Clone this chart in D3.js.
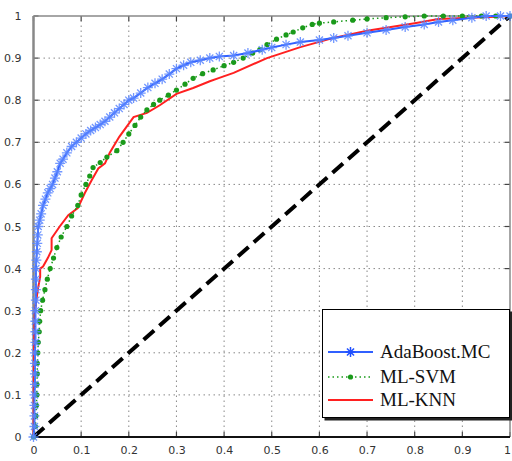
<!DOCTYPE html>
<html lang="en">
<head>
<meta charset="utf-8">
<title>ROC curves</title>
<script src="https://cdn.jsdelivr.net/npm/d3@7"></script>
<style>
  body { margin: 0; background: #fff; }
  svg { display: block; }
</style>
</head>
<body>
<script>
// ROC points: [false positive rate, true positive rate]
var adaboost = [
  [0,0],[0.002,0.025],[0.002,0.05],[0.002,0.075],[0.002,0.1],[0.003,0.125],[0.003,0.15],
  [0.003,0.175],[0.003,0.2],[0.004,0.225],[0.004,0.25],[0.004,0.275],[0.004,0.3],
  [0.005,0.325],[0.005,0.35],[0.005,0.375],[0.005,0.4],[0.006,0.42],[0.007,0.44],
  [0.008,0.46],[0.009,0.48],[0.01,0.5],[0.013,0.515],[0.016,0.53],[0.02,0.55],[0.025,0.565],
  [0.03,0.58],[0.035,0.59],[0.04,0.6],[0.045,0.615],[0.05,0.63],[0.056,0.65],[0.062,0.66],
  [0.07,0.675],[0.08,0.69],[0.09,0.70],[0.1,0.71],[0.11,0.72],[0.12,0.728],[0.13,0.735],
  [0.14,0.742],[0.15,0.75],[0.16,0.76],[0.17,0.77],[0.18,0.78],[0.19,0.79],[0.2,0.8],
  [0.21,0.805],[0.225,0.817],[0.24,0.83],[0.255,0.84],[0.27,0.85],[0.285,0.862],[0.3,0.875],
  [0.315,0.883],[0.33,0.89],[0.35,0.895],[0.37,0.9],[0.39,0.904],[0.42,0.906],[0.45,0.912],
  [0.48,0.92],[0.5,0.925],[0.53,0.932],[0.56,0.938],[0.6,0.943],[0.63,0.948],[0.66,0.953],
  [0.7,0.96],[0.74,0.967],[0.78,0.974],[0.82,0.98],[0.85,0.986],[0.88,0.99],[0.92,0.996],
  [0.95,1.0],[0.98,1],[1,1]
];
var mlsvm = [
  [0,0],[0.004,0.025],[0.005,0.05],[0.006,0.075],[0.007,0.1],[0.007,0.125],[0.008,0.15],
  [0.008,0.175],[0.009,0.2],[0.01,0.225],[0.012,0.25],[0.013,0.275],[0.015,0.3],
  [0.019,0.325],[0.024,0.35],[0.029,0.375],[0.035,0.4],[0.042,0.425],[0.049,0.45],
  [0.058,0.475],[0.07,0.5],[0.08,0.525],[0.093,0.55],[0.1,0.575],[0.11,0.6],[0.118,0.62],
  [0.125,0.64],[0.14,0.652],[0.154,0.665],[0.175,0.68],[0.188,0.7],[0.2,0.72],[0.213,0.74],
  [0.225,0.76],[0.238,0.777],[0.252,0.79],[0.265,0.8],[0.283,0.812],[0.3,0.824],
  [0.318,0.838],[0.335,0.852],[0.355,0.863],[0.377,0.872],[0.4,0.882],[0.42,0.89],
  [0.44,0.9],[0.46,0.912],[0.475,0.92],[0.49,0.932],[0.51,0.945],[0.53,0.955],[0.545,0.962],
  [0.565,0.972],[0.585,0.98],[0.6,0.983],[0.63,0.986],[0.67,0.99],[0.7,0.993],[0.74,0.996],
  [0.78,0.998],[0.82,1],[0.86,1],[0.9,1],[0.94,1],[0.97,1],[1,1]
];
var mlknn = [
  [0,0],[0.001,0.2],[0.002,0.27],[0.003,0.3],[0.009,0.35],[0.014,0.38],[0.014,0.4],
  [0.02,0.405],[0.03,0.425],[0.038,0.444],[0.038,0.472],[0.055,0.5],[0.073,0.527],
  [0.093,0.544],[0.108,0.58],[0.122,0.61],[0.136,0.638],[0.15,0.65],[0.16,0.675],
  [0.18,0.713],[0.21,0.76],[0.238,0.77],[0.265,0.788],[0.3,0.815],[0.335,0.829],
  [0.37,0.845],[0.39,0.853],[0.42,0.865],[0.49,0.9],[0.56,0.926],[0.63,0.948],
  [0.7,0.965],[0.8,0.983],[0.85,0.993],[0.97,0.998],[1,1]
];
var chance = [[0,0],[1,1]];
var ticks = [0,0.1,0.2,0.3,0.4,0.5,0.6,0.7,0.8,0.9,1];
var names = ["AdaBoost.MC","ML-SVM","ML-KNN"];

var w = 512, h = 461;
var margin = {top: 16, right: 2, bottom: 24, left: 33.5};

var svg = d3.select("body").append("svg")
  .attr("width", w)
  .attr("height", h);

var x = d3.scaleLinear().domain([0,1]).range([margin.left, w - margin.right]);
var y = d3.scaleLinear().domain([0,1]).range([h - margin.bottom, margin.top]);

// dotted grid
var grid = svg.append("g").attr("stroke", "#888").attr("stroke-width", 1)
  .attr("stroke-dasharray", "1.5,3.5");
grid.selectAll("line.v").data(ticks.slice(1, -1)).enter().append("line")
  .attr("x1", d => x(d)).attr("x2", d => x(d))
  .attr("y1", y(0)).attr("y2", y(1));
grid.selectAll("line.h").data(ticks.slice(1, -1)).enter().append("line")
  .attr("y1", d => y(d)).attr("y2", d => y(d))
  .attr("x1", x(0)).attr("x2", x(1));

// axes with tick labels
var xAxis = d3.axisBottom(x).tickValues(ticks).tickSize(0).tickPadding(9)
  .tickFormat(d3.format("~g"));
var yAxis = d3.axisLeft(y).tickValues(ticks).tickSize(0).tickPadding(12)
  .tickFormat(d3.format("~g"));

svg.append("g").attr("transform", `translate(0,${y(0)})`).call(xAxis)
  .call(g => g.select(".domain").remove())
  .selectAll("text").attr("font-family", "DejaVu Sans").attr("font-size", 11).attr("fill", "#333")
  .attr("dx", d => d === 1 ? -3 : 0);
svg.append("g").attr("transform", `translate(${x(0)},0)`).call(yAxis)
  .call(g => g.select(".domain").remove())
  .selectAll("text").attr("font-family", "DejaVu Sans").attr("font-size", 11).attr("fill", "#333");

// inner tick marks on all four sides
var tk = svg.append("g").attr("stroke", "#444").attr("stroke-width", 1.2);
ticks.forEach(function(t) {
  tk.append("line").attr("x1", x(t)).attr("x2", x(t)).attr("y1", y(0)).attr("y2", y(0) - 5);
  tk.append("line").attr("x1", x(t)).attr("x2", x(t)).attr("y1", y(1)).attr("y2", y(1) + 5);
  tk.append("line").attr("y1", y(t)).attr("y2", y(t)).attr("x1", x(0)).attr("x2", x(0) + 5);
  tk.append("line").attr("y1", y(t)).attr("y2", y(t)).attr("x1", x(1)).attr("x2", x(1) - 5);
});

// frame
svg.append("line").attr("x1", x(0)).attr("x2", x(1)).attr("y1", y(1)).attr("y2", y(1))
  .attr("stroke", "#888").attr("stroke-width", 1.5);
svg.append("line").attr("x1", x(1)).attr("x2", x(1)).attr("y1", y(1)).attr("y2", y(0))
  .attr("stroke", "#888").attr("stroke-width", 1.5);
svg.append("line").attr("x1", x(0)).attr("x2", x(0)).attr("y1", y(1)).attr("y2", y(0))
  .attr("stroke", "#888").attr("stroke-width", 2.5);
svg.append("line").attr("x1", x(0)).attr("x2", x(1)).attr("y1", y(0)).attr("y2", y(0))
  .attr("stroke", "#111").attr("stroke-width", 2);

var line = d3.line().x(d => x(d[0])).y(d => y(d[1]));

// diagonal
svg.append("path").datum(chance).attr("d", line)
  .attr("fill", "none").attr("stroke", "#000").attr("stroke-width", 4)
  .attr("stroke-dasharray", "14,7");

// asterisk marker
function star(g, cx, cy, r) {
  var s = r * 0.7071;
  g.append("path")
    .attr("d", `M${cx-r},${cy}L${cx+r},${cy}M${cx},${cy-r}L${cx},${cy+r}` +
      `M${cx-s},${cy-s}L${cx+s},${cy+s}M${cx-s},${cy+s}L${cx+s},${cy-s}`);
}

// ML-KNN
svg.append("path").datum(mlknn).attr("d", line)
  .attr("fill", "none").attr("stroke", "#ff2020").attr("stroke-width", 2);

// ML-SVM
svg.append("path").datum(mlsvm).attr("d", line)
  .attr("fill", "none").attr("stroke", "#1a9a1a").attr("stroke-width", 1.5)
  .attr("stroke-dasharray", "1.5,3");
svg.append("g").attr("fill", "#1a9a1a").selectAll("circle").data(mlsvm).enter()
  .append("circle").attr("cx", d => x(d[0])).attr("cy", d => y(d[1])).attr("r", 2.6);

// AdaBoost.MC
svg.append("path").datum(adaboost).attr("d", line)
  .attr("fill", "none").attr("stroke", "#3060ff").attr("stroke-width", 2);
var stars = svg.append("g").attr("stroke", "#5a86ff").attr("stroke-width", 1.3)
  .attr("fill", "none").attr("opacity", 0.85);
adaboost.forEach(d => star(stars, x(d[0]), y(d[1]), 5));

// legend
var lg = svg.append("g");
lg.append("rect").attr("x", 324.5).attr("y", 311.5).attr("width", 188).attr("height", 109)
  .attr("fill", "#222");
lg.append("rect").attr("x", 322.5).attr("y", 309.5).attr("width", 187).attr("height", 108)
  .attr("fill", "#fff").attr("stroke", "#000").attr("stroke-width", 1);

var ly = [352, 377, 400];
var lx1 = 328, lx2 = 373;
lg.append("line").attr("x1", lx1).attr("x2", lx2).attr("y1", ly[0]).attr("y2", ly[0])
  .attr("stroke", "#3060ff").attr("stroke-width", 2);
var lgs = lg.append("g").attr("stroke", "#2050ff").attr("stroke-width", 1.5).attr("fill", "none");
star(lgs, (lx1 + lx2) / 2, ly[0], 5);
lg.append("line").attr("x1", lx1).attr("x2", lx2).attr("y1", ly[1]).attr("y2", ly[1])
  .attr("stroke", "#1a9a1a").attr("stroke-width", 1.5).attr("stroke-dasharray", "1.5,3");
lg.append("circle").attr("cx", (lx1 + lx2) / 2).attr("cy", ly[1]).attr("r", 2.6).attr("fill", "#1a9a1a");
lg.append("line").attr("x1", lx1).attr("x2", lx2).attr("y1", ly[2]).attr("y2", ly[2])
  .attr("stroke", "#ff2020").attr("stroke-width", 2);

lg.selectAll("text").data(names).enter().append("text")
  .attr("x", 380).attr("y", (d, i) => ly[i] + 6)
  .attr("font-family", "Liberation Serif").attr("font-size", 19)
  .attr("fill", "#111")
  .text(d => d);
</script>
</body>
</html>
